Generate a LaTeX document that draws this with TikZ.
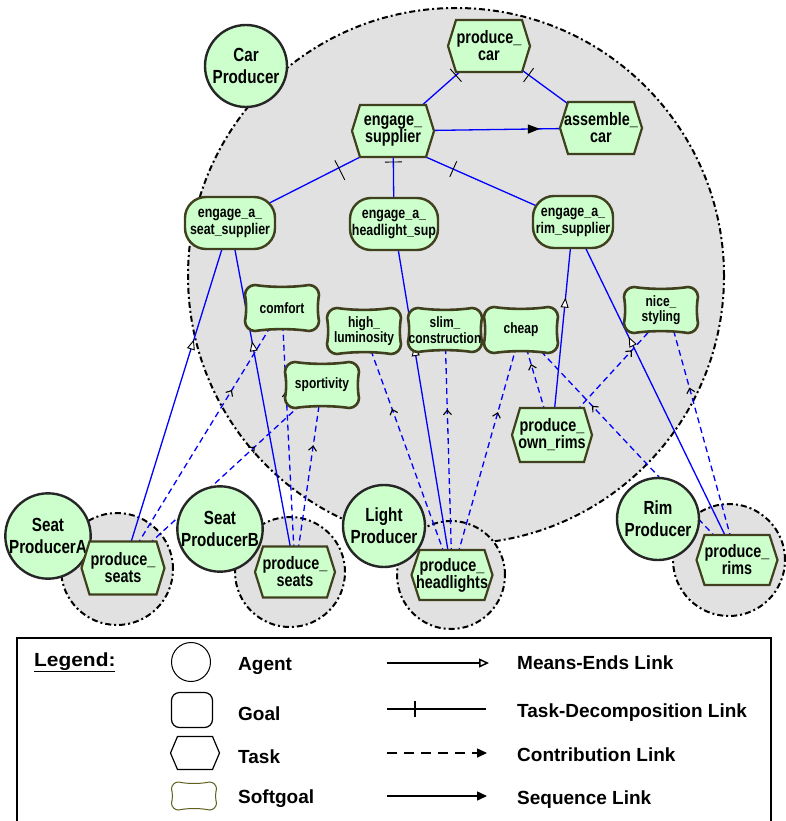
\documentclass[tikz,border=0pt]{standalone}
\usepackage{fontspec}
\setmainfont{Liberation Sans}
\newfontfamily\nodefont{Liberation Sans}[FakeStretch=0.8]
\newfontfamily\wideleg{Liberation Sans}[FakeStretch=1.1]
\usetikzlibrary{arrows.meta,decorations.markings,shapes.misc,calc}
\pgfdeclarelayer{bound}
\pgfdeclarelayer{links}
\pgfsetlayers{bound,links,main}

\definecolor{ngreen}{RGB}{204,255,204}
\definecolor{nborder}{RGB}{64,64,30}
\definecolor{bgray}{RGB}{225,225,225}
\definecolor{lblue}{RGB}{0,0,255}
\definecolor{sgolive}{RGB}{95,95,30}

\makeatletter
\newdimen\shL \newdimen\shR \newdimen\shB \newdimen\shT \newdimen\shI \newdimen\shS
\pgfkeys{/pgf/hex inset/.initial=8pt, /pgf/sg radius/.initial=10pt, /pgf/sg sag/.initial=2.5pt}
\pgfdeclareshape{hexshape}{%
  \inheritsavedanchors[from=rectangle]%
  \inheritanchorborder[from=rectangle]%
  \inheritanchor[from=rectangle]{center}%
  \inheritanchor[from=rectangle]{north}%
  \inheritanchor[from=rectangle]{south}%
  \inheritanchor[from=rectangle]{east}%
  \inheritanchor[from=rectangle]{west}%
  \inheritanchor[from=rectangle]{north east}%
  \inheritanchor[from=rectangle]{north west}%
  \inheritanchor[from=rectangle]{south east}%
  \inheritanchor[from=rectangle]{south west}%
  \backgroundpath{%
    \southwest \shL=\pgf@x \shB=\pgf@y
    \northeast \shR=\pgf@x \shT=\pgf@y
    \shI=\pgfkeysvalueof{/pgf/hex inset}\relax
    \pgfpathmoveto{\pgfpoint{\shL+\shI}{\shB}}%
    \pgfpathlineto{\pgfpoint{\shR-\shI}{\shB}}%
    \pgfpathlineto{\pgfpoint{\shR}{0.5*\shB+0.5*\shT}}%
    \pgfpathlineto{\pgfpoint{\shR-\shI}{\shT}}%
    \pgfpathlineto{\pgfpoint{\shL+\shI}{\shT}}%
    \pgfpathlineto{\pgfpoint{\shL}{0.5*\shB+0.5*\shT}}%
    \pgfpathclose
  }%
}
\pgfdeclareshape{sgshape}{%
  \inheritsavedanchors[from=rectangle]%
  \inheritanchorborder[from=rectangle]%
  \inheritanchor[from=rectangle]{center}%
  \inheritanchor[from=rectangle]{north}%
  \inheritanchor[from=rectangle]{south}%
  \inheritanchor[from=rectangle]{east}%
  \inheritanchor[from=rectangle]{west}%
  \inheritanchor[from=rectangle]{north east}%
  \inheritanchor[from=rectangle]{north west}%
  \inheritanchor[from=rectangle]{south east}%
  \inheritanchor[from=rectangle]{south west}%
  \backgroundpath{%
    \southwest \shL=\pgf@x \shB=\pgf@y
    \northeast \shR=\pgf@x \shT=\pgf@y
    \shI=\pgfkeysvalueof{/pgf/sg radius}\relax
    \shS=\pgfkeysvalueof{/pgf/sg sag}\relax
    \pgfpathmoveto{\pgfpoint{\shL+\shI}{\shT}}%
    \pgfpathcurveto{\pgfpoint{\shL+\shI+0.3*(\shR-\shL-2*\shI)}{\shT-\shS}}{\pgfpoint{\shR-\shI-0.3*(\shR-\shL-2*\shI)}{\shT-\shS}}{\pgfpoint{\shR-\shI}{\shT}}%
    \pgfpathcurveto{\pgfpoint{\shR-0.45*\shI}{\shT}}{\pgfpoint{\shR}{\shT-0.45*\shI}}{\pgfpoint{\shR}{\shT-\shI}}%
    \pgfpathcurveto{\pgfpoint{\shR-0.6*\shS}{\shT-\shI-0.3*(\shT-\shB-2*\shI)}}{\pgfpoint{\shR-0.6*\shS}{\shB+\shI+0.3*(\shT-\shB-2*\shI)}}{\pgfpoint{\shR}{\shB+\shI}}%
    \pgfpathcurveto{\pgfpoint{\shR}{\shB+0.45*\shI}}{\pgfpoint{\shR-0.45*\shI}{\shB}}{\pgfpoint{\shR-\shI}{\shB}}%
    \pgfpathcurveto{\pgfpoint{\shR-\shI-0.3*(\shR-\shL-2*\shI)}{\shB+\shS}}{\pgfpoint{\shL+\shI+0.3*(\shR-\shL-2*\shI)}{\shB+\shS}}{\pgfpoint{\shL+\shI}{\shB}}%
    \pgfpathcurveto{\pgfpoint{\shL+0.45*\shI}{\shB}}{\pgfpoint{\shL}{\shB+0.45*\shI}}{\pgfpoint{\shL}{\shB+\shI}}%
    \pgfpathcurveto{\pgfpoint{\shL+0.6*\shS}{\shB+\shI+0.3*(\shT-\shB-2*\shI)}}{\pgfpoint{\shL+0.6*\shS}{\shT-\shI-0.3*(\shT-\shB-2*\shI)}}{\pgfpoint{\shL}{\shT-\shI}}%
    \pgfpathcurveto{\pgfpoint{\shL}{\shT-0.45*\shI}}{\pgfpoint{\shL+0.45*\shI}{\shT}}{\pgfpoint{\shL+\shI}{\shT}}%
    \pgfpathclose
  }%
}
\makeatother

\tikzset{
  boundary/.style={circle, draw=black, line width=2pt, dash pattern=on 6pt off 3pt on 2pt off 3pt, fill=bgray, inner sep=0pt},
  agentnode/.style={circle, draw=black!85, line width=2.4pt, fill=ngreen, minimum size=82pt, inner sep=0pt, outer sep=0pt, align=center, font={\nodefont\bfseries\fontsize{19pt}{22pt}\selectfont}},
  tasknode/.style={shape=hexshape, draw=nborder, line width=2.2pt, fill=ngreen, minimum width=82pt, minimum height=52pt, inner sep=0pt, outer sep=0pt, align=center, font={\nodefont\bfseries\fontsize{18pt}{17pt}\selectfont}},
  goalnode/.style={rectangle, rounded corners=21pt, draw=nborder, line width=2.4pt, fill=ngreen, minimum width=88pt, minimum height=52pt, inner sep=0pt, outer sep=0pt, align=center, font={\nodefont\bfseries\fontsize{15.5pt}{17pt}\selectfont}},
  softgoalnode/.style={shape=sgshape, draw=nborder, line width=2.6pt, fill=ngreen, minimum width=74pt, minimum height=46pt, inner sep=0pt, outer sep=0pt, align=center, font={\nodefont\bfseries\fontsize{15pt}{15.5pt}\selectfont}},
  link/.style={draw=lblue, line width=1.3pt, shorten <=-4pt, shorten >=-4pt},
  decomp/.style={link, postaction={decorate}, decoration={markings, mark=at position -#1 with {\draw[black, line width=0.9pt, solid] (0pt,-4.5pt) -- (0pt,4.5pt);}}},
  seqlink/.style={link, postaction={decorate}, decoration={markings, mark=at position #1 with {\arrow[black]{Triangle[length=12pt,width=9pt]}}}},
  meansend/.style={link, postaction={decorate}, decoration={markings, mark=at position #1 with {\arrow[black, line width=0.9pt]{Triangle[length=10pt,width=8pt,fill=white]}}}},
  contrib/.style={link, dash pattern=on 6pt off 4pt, postaction={decorate}, decoration={markings, mark=at position #1 with {\arrow[black, solid, line width=1.1pt]{Straight Barb[length=4.5pt,width=8pt]}}}},
  legtext/.style={anchor=base west, inner sep=0pt, font={\bfseries\fontsize{19pt}{22pt}\selectfont}},
  legline/.style={draw=black, line width=1.5pt},
  legtick/.style={legline, postaction={decorate}, decoration={markings, mark=at position #1 with {\draw[black, line width=1.5pt] (0pt,-8pt) -- (0pt,8pt);}}}
}

\begin{document}
\begin{tikzpicture}[x=1pt,y=-1pt]
\useasboundingbox (0,0) rectangle (785,821);

% actor boundaries
\begin{pgfonlayer}{bound}
  \node[boundary, minimum size=536pt] (bcar) at (456,276) {};
  \node[boundary, minimum size=112pt] (bseata) at (117,569) {};
  \node[boundary, minimum size=110pt] (bseatb) at (290,572) {};
  \node[boundary, minimum size=108pt] (blight) at (451,575) {};
  \node[boundary, minimum size=112pt] (brim) at (729,560) {};
\end{pgfonlayer}

% agents
\node[agentnode] (cp) at (246,66) {Car\\Producer};
\node[agentnode] (spa) at (48,536) {Seat\\ProducerA};
\node[agentnode] (spb) at (220,529) {Seat\\ProducerB};
\node[agentnode] (lp) at (384,526) {Light\\Producer};
\node[agentnode] (rp) at (658,519) {Rim\\Producer};

% tasks
\node[tasknode] (pc) at (489,46) {produce\_\\car};
\node[tasknode] (es) at (393,131) {engage\_\\supplier};
\node[tasknode] (ac) at (601,128) {assemble\_\\car};
\node[tasknode, minimum width=80pt, minimum height=54pt] (por) at (552,435) {produce\_\\own\_rims};
\node[tasknode, minimum width=83pt, minimum height=53pt] (psa) at (123,568) {produce\_\\seats};
\node[tasknode, minimum width=80pt, minimum height=51pt] (psb) at (295,572) {produce\_\\seats};
\node[tasknode, minimum width=81pt, minimum height=50pt] (ph) at (452,575) {produce\_\\headlights};
\node[tasknode, minimum width=81pt, minimum height=50pt] (pr) at (737,560) {produce\_\\rims};

% goals
\node[goalnode, minimum width=90pt] (eas) at (230,223) {engage\_a\_\\seat\_supplier};
\node[goalnode] (eah) at (394,224) {engage\_a\_\\headlight\_sup};
\node[goalnode, minimum width=80pt] (ear) at (573,222) {engage\_a\_\\rim\_supplier};

% softgoals
\node[softgoalnode] (comfort) at (282,308) {comfort};
\node[softgoalnode] (hl) at (364,331) {high\_\\luminosity};
\node[softgoalnode, minimum height=44pt] (slim) at (445,330) {slim\_\\construction};
\node[softgoalnode] (cheap) at (521,330) {cheap};
\node[softgoalnode] (nice) at (661,310) {nice\_\\styling};
\node[softgoalnode] (sport) at (322,385) {sportivity};

% links
\begin{pgfonlayer}{links}
  \draw[decomp=5pt] (es) -- (pc);
  \draw[decomp=5pt] (ac) -- (pc);
  \draw[decomp=24pt, shorten <=-9pt] (eas) -- ($(es.south west)!0.1!(es.south east)$);
  \draw[decomp=5pt] (eah) -- (es);
  \draw[decomp=30pt] (ear) -- ($(es.south east)!0.1!(es.south west)$);
  \draw[seqlink=0.84] (es) -- (ac);

  \draw[meansend=0.69] (psa) -- (eas);
  \draw[meansend=0.69] (psb) -- (eas);
  \draw[meansend=0.68] (ph) -- (eah);
  \draw[meansend=0.69] (por) -- (ear);
  \draw[meansend=0.69] (pr) -- (ear);

  \draw[contrib=0.72] (psa) -- (comfort);
  \draw[contrib=0.71] (psa) -- (sport);
  \draw[contrib=0.72] (psb) -- (comfort);
  \draw[contrib=0.73] (psb) -- (sport);
  \draw[contrib=0.72] (ph) -- (hl);
  \draw[contrib=0.71] (ph) -- (slim);
  \draw[contrib=0.70] (ph) -- (cheap);
  \draw[contrib=0.80] (por) -- (cheap);
  \draw[contrib=0.77] (por.45) -- (nice.-120);
  \draw[contrib=0.71] (pr) -- (cheap);
  \draw[contrib=0.73] (pr) -- (nice.-60);
\end{pgfonlayer}

% legend
\draw[line width=1.5pt] (17,638) rectangle (771,840);
\node[anchor=base west, inner sep=0pt, font={\wideleg\bfseries\fontsize{19pt}{22pt}\selectfont}] (legtitle) at (34,666) {\underline{Legend:}};

\node[circle, draw=black, line width=1pt, minimum size=39pt, inner sep=0pt] (lagent) at (191,662) {};
\node[rectangle, rounded corners=8pt, draw=black, line width=1.2pt, minimum width=41pt, minimum height=35pt, inner sep=0pt] (lgoal) at (192,710) {};
\node[shape=hexshape, /pgf/hex inset=7pt, draw=black, line width=1.2pt, minimum width=49pt, minimum height=33pt, inner sep=0pt, outer sep=0pt] (ltask) at (195,753) {};
\node[shape=sgshape, /pgf/sg radius=7pt, /pgf/sg sag=2pt, draw=sgolive, line width=1pt, minimum width=45pt, minimum height=28pt, inner sep=0pt, outer sep=0pt] (lsoft) at (194,796) {};

\node[legtext] (tagent) at (238,670) {Agent};
\node[legtext] (tgoal) at (238,720) {Goal};
\node[legtext] (ttask) at (238,763) {Task};
\node[legtext] (tsoft) at (238,803) {Softgoal};

\coordinate (me1) at (387,663); \coordinate (me2) at (489,663);
\coordinate (td1) at (387,709); \coordinate (td2) at (486,709);
\coordinate (cb1) at (387,753); \coordinate (cb2) at (487,753);
\coordinate (sq1) at (387,796); \coordinate (sq2) at (487,796);
\draw[legline, -{Triangle[open,length=10pt,width=9pt]}] (me1) -- (me2);
\draw[legtick=28pt] (td1) -- (td2);
\draw[legline, dash pattern=on 10pt off 7pt, -{Triangle[length=10pt,width=9pt]}] (cb1) -- (cb2);
\draw[legline, -{Triangle[length=10pt,width=9pt]}] (sq1) -- (sq2);

\node[legtext] (tme) at (517,669) {Means-Ends Link};
\node[legtext] (ttd) at (517,717) {Task-Decomposition Link};
\node[legtext] (tcb) at (517,761) {Contribution Link};
\node[legtext] (tsq) at (517,804) {Sequence Link};
\end{tikzpicture}
\end{document}
